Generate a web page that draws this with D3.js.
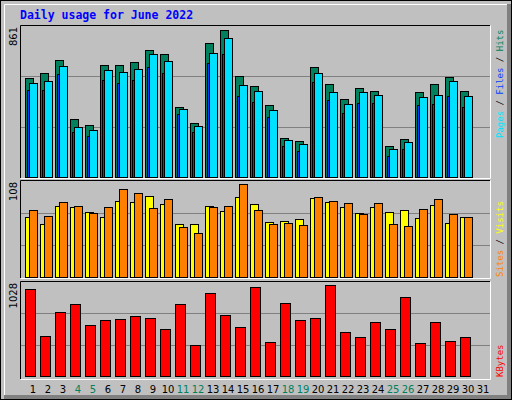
<!DOCTYPE html>
<meta charset="utf-8">
<script src="https://d3js.org/d3.v7.min.js"></script>
<style>body{margin:0}</style>
<body>
<script>
// values
var days = d3.range(1, 32);
var weekend = [4, 5, 11, 12, 18, 19, 25, 26];
var hits  = [563,591,665,329,295,637,637,654,722,699,397,306,762,836,574,517,409,221,204,625,528,443,506,489,175,215,483,528,568,489,0];
var pages = [494,494,585,255,232,551,534,551,625,591,357,255,648,699,460,426,340,175,147,540,437,363,420,420,118,158,409,414,460,397,0];
var files = [534,546,631,283,266,608,597,614,699,660,386,289,705,791,523,489,380,209,186,591,483,414,483,466,158,198,454,466,546,460,0];
var visits = [66.8,58.9,79.1,78,72.4,66.8,84.8,83.6,90.4,81.4,58.9,58.9,79.1,73.5,89.3,81.4,61.1,62.3,64.5,88.1,83.6,78,71.3,78,72.4,74.6,65.6,80.3,60,66.8,0];
var sites  = [74.6,67.9,83.6,79.1,71.3,78,98.3,93.8,76.9,87,55.5,48.8,78,79.1,103.9,74.6,58.9,60,57.8,89.3,84.8,82.5,70.1,82.5,58.9,56.6,75.8,87,70.1,66.8,0];
var kbytes = [945,436,696,783,555,610,620,653,631,512,783,339,902,664,534,967,372,794,610,631,988,480,426,588,512,858,361,588,382,426,0];
var maxLabels = ["861", "108", "1028"];

var W = 512, H = 400;
var svg = d3.select("body").append("svg").attr("width", W).attr("height", H)
  .style("font-family", "DejaVu Sans Mono");

// frame
svg.append("rect").attr("width", W).attr("height", H).attr("fill", "#c0c0c0");
svg.append("rect").attr("x", 507).attr("y", 4).attr("width", 4).attr("height", 395).attr("fill", "#808080");
svg.append("rect").attr("x", 4).attr("y", 395).attr("width", 507).attr("height", 4).attr("fill", "#808080");
svg.append("rect").attr("x", 0.5).attr("y", 0.5).attr("width", W - 1).attr("height", H - 1)
  .attr("fill", "none").attr("stroke", "#000");
svg.append("path").attr("d", "M4.5,395V4.5H507").attr("stroke", "#fff").attr("fill", "none");

svg.append("text").attr("x", 20).attr("y", 19).text("Daily usage for June 2022")
  .attr("fill", "#0000ff").attr("font-weight", "bold").attr("font-size", 11.5);

var x = d3.scaleBand().domain(days).range([25, 25 + 15 * 31]).paddingInner(0).paddingOuter(0);

var panels = [
  {top: 25, bottom: 177, max: 861},
  {top: 180, bottom: 277, max: 108},
  {top: 281, bottom: 376, max: 1028}
];

panels.forEach(function(p, i) {
  p.y = d3.scaleLinear().domain([0, p.max]).range([p.bottom, p.top + 0.5]);
  var g = svg.append("g");
  var pb = i == 2 ? 379 : p.bottom + 1;
  g.append("path").attr("d", "M20.5," + pb + "V" + (p.top + 0.5) + "H490")
    .attr("stroke", "#000").attr("fill", "none");
  g.append("path").attr("d", "M20.5," + (pb + 0.5) + "H490.5V" + (p.top + 0.5))
    .attr("stroke", "#fff").attr("fill", "none");
  [1, 2].forEach(function(k) {
    var yy = Math.round(p.y(p.max * k / 3)) + 0.5;
    g.append("line").attr("x1", 21).attr("x2", 490).attr("y1", yy).attr("y2", yy)
      .attr("stroke", "#808080");
  });
  svg.append("text").text(maxLabels[i]).attr("font-family", "DejaVu Sans").attr("font-size", 10)
    .attr("text-anchor", "end")
    .attr("transform", "translate(17," + (p.top + 2) + ") rotate(-90)");
});

function bars(data, y, off, w, color) {
  svg.append("g").selectAll("rect").data(data.map(function(v, i) { return {d: days[i], v: v}; })
      .filter(function(o) { return o.v > 0; }))
    .join("rect")
    .attr("x", function(o) { return x(o.d) + off + 0.5; })
    .attr("y", function(o) { return Math.round(y(o.v)) + 0.5; })
    .attr("width", w)
    .attr("height", function(o) { return y.range()[0] - Math.round(y(o.v)); })
    .attr("fill", color).attr("stroke", "#000");
}
bars(hits, panels[0].y, 0, 8, "#00805c");
bars(pages, panels[0].y, 2, 8, "#0040ff");
bars(files, panels[0].y, 4, 8, "#00e0ff");
bars(visits, panels[1].y, 0, 8, "#ffff00");
bars(sites, panels[1].y, 4, 8, "#ff8000");
bars(kbytes, panels[2].y, 0, 10, "#ff0000");

// day labels
svg.append("g").selectAll("text").data(days).join("text")
  .attr("x", function(d) { return x(d) + 8; }).attr("y", 393)
  .attr("text-anchor", "middle").attr("font-family", "DejaVu Sans").attr("font-size", 10)
  .attr("fill", function(d) { return weekend.indexOf(d) >= 0 ? "#00805c" : "#000"; })
  .text(function(d) { return d; });

// right legends
function legend(parts, yStart) {
  var t = svg.append("text").attr("font-size", 9)
    .attr("transform", "translate(503," + yStart + ") rotate(-90)");
  parts.forEach(function(p) { t.append("tspan").attr("fill", p[1]).text(p[0]); });
}
legend([["Pages", "#00e0ff"], [" / ", "#000"], ["Files", "#0040ff"], [" / ", "#000"], ["Hits", "#00805c"]], 138);
legend([["Sites", "#ff8000"], [" / ", "#000"], ["Visits", "#ffff00"]], 277);
legend([["KBytes", "#ff0000"]], 377);
</script>
</body>
